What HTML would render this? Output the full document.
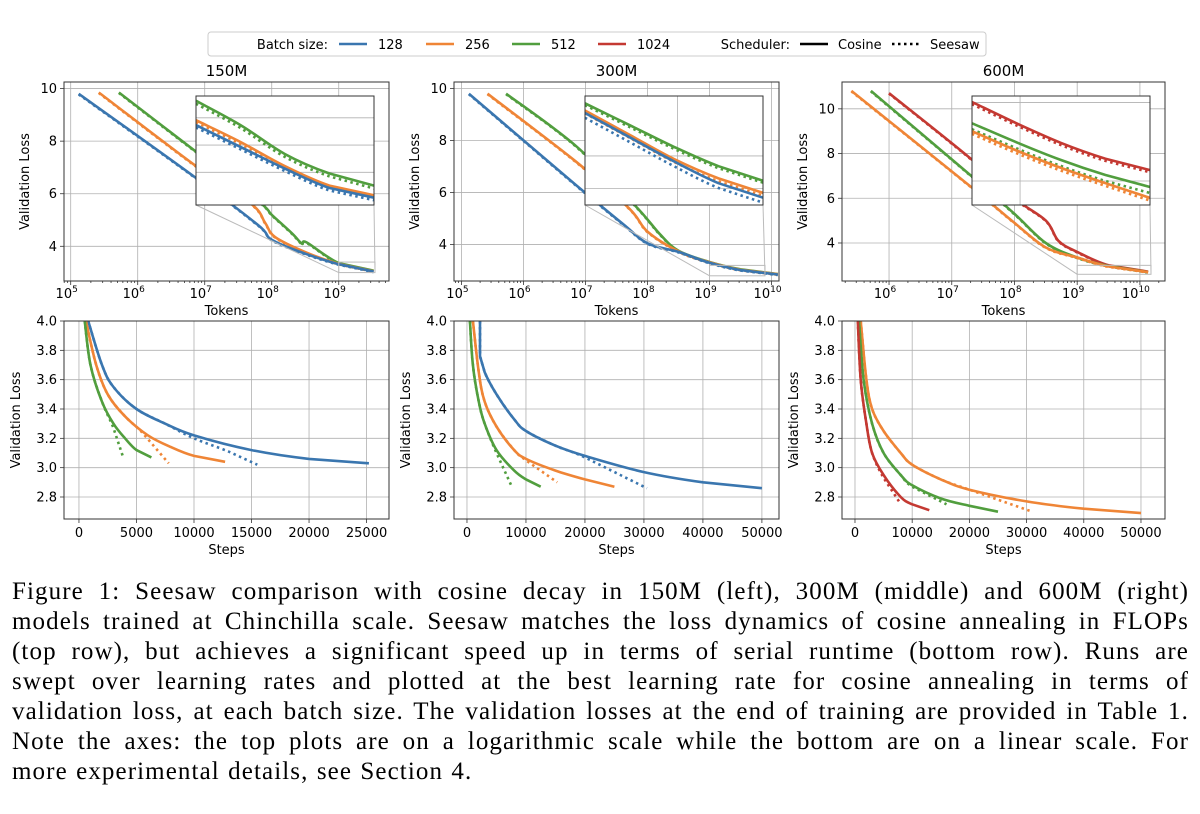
<!DOCTYPE html>
<html><head><meta charset="utf-8">
<style>
body{margin:0;background:#fff;width:1200px;height:814px;overflow:hidden;}
svg text{font-family:"DejaVu Sans","Liberation Sans",sans-serif;fill:#000;}
#caption{position:absolute;left:12px;top:577px;width:1177px;font-family:"Liberation Serif",serif;font-size:25px;line-height:30px;color:#000;letter-spacing:1.1px;word-spacing:1px;}
#caption div{text-align:justify;text-align-last:justify;white-space:nowrap;}
#caption div.last{text-align-last:left;}
</style></head><body>
<svg id="fig" width="1200" height="580" style="position:absolute;left:0;top:0"></svg>
<div id="caption">
<div>Figure 1: Seesaw comparison with cosine decay in 150M (left), 300M (middle) and 600M (right)</div>
<div>models trained at Chinchilla scale. Seesaw matches the loss dynamics of cosine annealing in FLOPs</div>
<div>(top row), but achieves a significant speed up in terms of serial runtime (bottom row). Runs are</div>
<div>swept over learning rates and plotted at the best learning rate for cosine annealing in terms of</div>
<div>validation loss, at each batch size. The validation losses at the end of training are provided in Table 1.</div>
<div>Note the axes: the top plots are on a logarithmic scale while the bottom are on a linear scale. For</div>
<div class="last">more experimental details, see Section 4.</div>
</div>
<script>
// ---- data (x = log10 tokens for top row, steps for bottom row) ----
const COLORS = {b128:'#3a76af', b256:'#ef8536', b512:'#519e3e', b1024:'#c43932'};
const topTitles = ['150M','300M','600M'];
// Top-left 150M
const tl_b128 = [[5.12,9.8],[6.87,6.6],[7.8,4.8],[8.0,4.25],[8.5,3.72],[9.0,3.32],[9.52,3.04]];
const tl_b256 = [[5.42,9.85],[6.87,7.05],[7.7,5.6],[7.9,4.9],[8.05,4.35],[8.5,3.78],[9.0,3.33],[9.52,3.05]];
const tl_b512 = [[5.72,9.85],[6.87,7.6],[7.5,6.4],[7.9,5.5],[8.0,5.2],[8.3,4.5],[8.45,4.1],[8.52,4.15],[9.0,3.36],[9.52,3.07]];
// Top-middle 300M
const tm_b128 = [[5.12,9.8],[6.84,6.3],[7.6,4.8],[8.0,4.05],[8.5,3.72],[9.0,3.3],[9.5,3.02],[10.1,2.85]];
const tm_b256 = [[5.42,9.8],[6.84,7.2],[7.7,5.4],[8.0,4.5],[8.5,3.74],[9.0,3.32],[9.5,3.03],[10.1,2.86]];
const tm_b512 = [[5.72,9.8],[6.84,7.8],[7.8,5.5],[8.2,4.4],[8.5,3.76],[9.0,3.33],[9.5,3.05],[10.1,2.87]];
// Top-right 600M
const tr_b256 = [[5.4,10.8],[7.29,6.55],[8.0,4.9],[8.5,3.8],[9.0,3.35],[9.5,2.95],[10.13,2.7]];
const tr_b512 = [[5.71,10.8],[7.29,7.05],[8.0,5.3],[8.5,4.0],[9.0,3.35],[9.5,2.97],[10.13,2.7]];
const tr_b1024 = [[6.0,10.7],[7.29,7.8],[8.0,6.0],[8.5,5.0],[8.7,4.1],[9.0,3.6],[9.5,3.0],[10.13,2.72]];
// Inset data (fraction of inset x range, loss)
const tl_in_b512 = [[0,3.43],[0.25,3.33],[0.5,3.21],[0.75,3.13],[1,3.08]];
const tl_in_b256 = [[0,3.35],[0.25,3.26],[0.5,3.16],[0.75,3.08],[1,3.04]];
const tl_in_b128 = [[0,3.33],[0.25,3.24],[0.5,3.15],[0.75,3.07],[1,3.03]];
const tm_in_b512 = [[0,3.42],[0.25,3.33],[0.5,3.24],[0.75,3.16],[1,3.10]];
const tm_in_b256 = [[0,3.39],[0.25,3.29],[0.5,3.19],[0.75,3.11],[1,3.05]];
const tm_in_b128 = [[0,3.38],[0.25,3.28],[0.5,3.18],[0.75,3.09],[1,3.03]];
const tr_in_b1024 = [[0,2.978],[0.25,2.90],[0.5,2.828],[0.75,2.77],[1,2.728]];
const tr_in_b512 = [[0,2.90],[0.25,2.83],[0.5,2.765],[0.75,2.71],[1,2.666]];
const tr_in_b256 = [[0,2.871],[0.25,2.80],[0.5,2.736],[0.75,2.68],[1,2.626]];
// Bottom row (steps, loss)
const bl_b128 = [[800,4.0],[2000,3.7],[3000,3.55],[5000,3.4],[7500,3.3],[10000,3.22],[15000,3.12],[20000,3.06],[25200,3.03]];
const bl_b128s = [[800,4.0],[2000,3.7],[3000,3.55],[5000,3.4],[7500,3.3],[10000,3.2],[13000,3.11],[15500,3.02]];
const bl_b256 = [[600,4.0],[1500,3.7],[2500,3.5],[4000,3.35],[6000,3.22],[8000,3.14],[10000,3.08],[12700,3.04]];
const bl_b256s = [[600,4.0],[1500,3.7],[2500,3.5],[4000,3.35],[5500,3.24],[7800,3.03]];
const bl_b512 = [[500,4.0],[1000,3.7],[2000,3.45],[3000,3.3],[4000,3.2],[5000,3.12],[6300,3.07]];
const bl_b512s = [[500,4.0],[1000,3.7],[2000,3.45],[3000,3.27],[3800,3.08]];
const bm_b128 = [[2200,4.0],[2200,3.76],[3000,3.65],[5000,3.5],[8000,3.33],[10000,3.25],[15000,3.15],[20000,3.08],[30000,2.97],[40000,2.9],[50000,2.86]];
const bm_b128s = [[2200,4.0],[2200,3.76],[3000,3.65],[5000,3.5],[8000,3.33],[10000,3.25],[15000,3.15],[20000,3.07],[30500,2.86]];
const bm_b256 = [[1000,4.0],[2000,3.65],[3000,3.45],[5000,3.28],[8000,3.12],[10000,3.06],[15000,2.98],[20000,2.92],[25000,2.87]];
const bm_b256s = [[1000,4.0],[2000,3.65],[3000,3.45],[5000,3.28],[8000,3.12],[10000,3.05],[15300,2.9]];
const bm_b512 = [[500,4.0],[1000,3.7],[2000,3.45],[3000,3.3],[5000,3.12],[8000,2.98],[10000,2.92],[12500,2.87]];
const bm_b512s = [[500,4.0],[1000,3.7],[2000,3.45],[3000,3.3],[5000,3.1],[7500,2.88]];
const br_b256 = [[1000,4.0],[2000,3.6],[3000,3.4],[5000,3.25],[8000,3.1],[10000,3.02],[15000,2.92],[20000,2.85],[30000,2.77],[40000,2.72],[50000,2.69]];
const br_b256s = [[1000,4.0],[2000,3.6],[3000,3.4],[5000,3.25],[8000,3.1],[10000,3.02],[15000,2.92],[20000,2.85],[31000,2.7]];
const br_b512 = [[700,4.0],[1500,3.6],[3000,3.3],[5000,3.1],[8000,2.95],[10000,2.88],[15000,2.79],[20000,2.74],[25000,2.7]];
const br_b512s = [[700,4.0],[1500,3.6],[3000,3.3],[5000,3.1],[8000,2.95],[10000,2.87],[16000,2.75]];
const br_b1024 = [[500,4.0],[1000,3.6],[2000,3.3],[3000,3.1],[5000,2.95],[8000,2.8],[10000,2.75],[13000,2.71]];
const br_b1024s = [[500,4.0],[1000,3.6],[2000,3.3],[3000,3.1],[5000,2.93],[7700,2.77]];
const topYTicks = [4,6,8,10];
const bottomYTicks = [2.8,3.0,3.2,3.4,3.6,3.8,4.0];
const blXTicks = [0,5000,10000,15000,20000,25000];
const bXTicks = [0,10000,20000,30000,40000,50000];

const NS='http://www.w3.org/2000/svg';
const svg=document.getElementById('fig');
function el(tag,attrs,parent){const e=document.createElementNS(NS,tag);for(const k in attrs)e.setAttribute(k,attrs[k]);(parent||svg).appendChild(e);return e;}
function txt(s,x,y,size,anchor,parent){const t=el('text',{x:x,y:y,'font-size':size,'text-anchor':anchor||'middle'},parent);t.textContent=s;return t;}
function lin(d0,d1,r0,r1){return v=>r0+(v-d0)*(r1-r0)/(d1-d0);}
function pathOf(arr,sx,sy){
  const P=arr.map(p=>[sx(p[0]),sy(p[1])]);
  let d='M'+P[0][0].toFixed(1)+','+P[0][1].toFixed(1);
  for(let i=0;i<P.length-1;i++){
    const p0=P[Math.max(0,i-1)],p1=P[i],p2=P[i+1],p3=P[Math.min(P.length-1,i+2)];
    const same=(Math.abs(p1[0]-p2[0])<0.5)||(Math.abs(p0[0]-p1[0])<0.5&&i>0)||(Math.abs(p2[0]-p3[0])<0.5);
    if(same){d+=' L'+p2[0].toFixed(1)+','+p2[1].toFixed(1);continue;}
    const c1=[p1[0]+(p2[0]-p0[0])/6,p1[1]+(p2[1]-p0[1])/6];
    const c2=[p2[0]-(p3[0]-p1[0])/6,p2[1]-(p3[1]-p1[1])/6];
    d+=' C'+c1[0].toFixed(1)+','+c1[1].toFixed(1)+' '+c2[0].toFixed(1)+','+c2[1].toFixed(1)+' '+p2[0].toFixed(1)+','+p2[1].toFixed(1);
  }
  return d;
}
function series(g,arr,sx,sy,color,dotted,name){
  const p=el('path',{d:pathOf(arr,sx,sy),fill:'none',stroke:color,'stroke-width':2.6,'stroke-linejoin':'round','stroke-dasharray':dotted?'2.5,3.5':'none'},g);
  
  
}
function dotVariant(arr,d){return arr.map(p=>[p[0],p[1]-d]);}

// ---- top row ----
function topPanel(idx,cfg){
  const g=el('g',{});
  
  
  const L=cfg.L,R=cfg.R,T=82,B=281;
  const sx=lin(cfg.x0,cfg.x1,L,R), sy=lin(cfg.y0,cfg.y1,B,T);
  const clip=el('clipPath',{id:'c'+idx},g); el('rect',{x:L,y:T,width:R-L,height:B-T},clip);
  for(let d=Math.ceil(cfg.x0);d<=cfg.x1;d++) el('line',{x1:sx(d),x2:sx(d),y1:T,y2:B,stroke:'#b0b0b0','stroke-width':0.8},g);
  topYTicks.forEach(v=>{if(v<=cfg.y1) el('line',{x1:L,x2:R,y1:sy(v),y2:sy(v),stroke:'#b0b0b0','stroke-width':0.8},g);});
  const cg=el('g',{'clip-path':'url(#c'+idx+')'},g);
  cfg.series.forEach(s=>{series(cg,s[0],sx,sy,s[1],false,'line-'+s[2]);series(cg,dotVariant(s[0],0.02),sx,sy,s[1],true,'dotted-'+s[2]);});
  const zx0=sx(9.0),zx1=R-14,zy0=sy(cfg.zy1),zy1=sy(cfg.zy0);
  el('rect',{x:zx0,y:zy0,width:zx1-zx0,height:zy1-zy0,fill:'none',stroke:'#bbb','stroke-width':1},g);
  const IX0=cfg.IL,IX1=cfg.IL+178,IY0=96,IY1=205;
  el('line',{x1:IX0,y1:IY1,x2:zx0,y2:zy1,stroke:'#bbb','stroke-width':1},g);
  el('line',{x1:IX1,y1:IY1,x2:zx1,y2:zy1,stroke:'#bbb','stroke-width':1},g);
  const ig=el('g',{},g);
  
  
  el('rect',{x:IX0,y:IY0,width:IX1-IX0,height:IY1-IY0,fill:'#fff'},ig);
  const isx=lin(0,1,IX0,IX1), isy=lin(cfg.iy0,cfg.iy1,IY1,IY0);
  cfg.igx.forEach(f=>el('line',{x1:isx(f),x2:isx(f),y1:IY0,y2:IY1,stroke:'#b0b0b0','stroke-width':0.8},ig));
  cfg.igy.forEach(f=>el('line',{x1:IX0,x2:IX1,y1:IY0+f*(IY1-IY0),y2:IY0+f*(IY1-IY0),stroke:'#b0b0b0','stroke-width':0.8},ig));
  cfg.iseries.forEach(s=>{series(ig,s[0],isx,isy,s[1],false,'inset-line-'+s[2]);series(ig,dotVariant(s[0],s[3]),isx,isy,s[1],true,'inset-dotted-'+s[2]);});
  el('rect',{x:IX0,y:IY0,width:IX1-IX0,height:IY1-IY0,fill:'none',stroke:'#333','stroke-width':1},ig);
  el('rect',{x:L,y:T,width:R-L,height:B-T,fill:'none',stroke:'#333','stroke-width':1},g);
  for(let d=Math.floor(cfg.x0);d<=Math.ceil(cfg.x1);d++){
    for(let m=1;m<10;m++){const v=d+Math.log10(m); if(v<cfg.x0||v>cfg.x1)continue;
      el('line',{x1:sx(v),x2:sx(v),y1:B,y2:B+(m==1?4:2),stroke:'#333','stroke-width':0.8},g);}
    if(d>=cfg.x0&&d<=cfg.x1){const t=txt('10',sx(d)-4,B+17,13,'middle',g);const s=el('tspan',{dy:-6,'font-size':9},t);s.textContent=d;}
  }
  topYTicks.forEach(v=>{if(v>cfg.y1)return;el('line',{x1:L-4,x2:L,y1:sy(v),y2:sy(v),stroke:'#333','stroke-width':0.8},g);txt(String(v),L-7,sy(v)+4.5,13,'end',g);});
  txt('Tokens',(L+R)/2,B+34,13,'middle',g);
  const yl=txt('Validation Loss',0,0,13,'middle',g); yl.setAttribute('transform','translate('+(L-35)+','+((T+B)/2)+') rotate(-90)');
  txt(topTitles[idx],(L+R)/2,T-6,15,'middle',g);
}
topPanel(0,{L:64,R:389,x0:4.9,x1:9.75,y0:2.68,y1:10.25,zy0:3.0,zy1:3.4,IL:196,iy0:3.0,iy1:3.45,igx:[],igy:[0.2,0.45,0.7],
 series:[[tl_b512,COLORS.b512,'512'],[tl_b256,COLORS.b256,'256'],[tl_b128,COLORS.b128,'128']],
 iseries:[[tl_in_b512,COLORS.b512,'512',0.012],[tl_in_b256,COLORS.b256,'256',0.008],[tl_in_b128,COLORS.b128,'128',0.01]]});
topPanel(1,{L:454,R:779,x0:4.88,x1:10.12,y0:2.6,y1:10.25,zy0:2.8,zy1:3.2,IL:585,iy0:3.0,iy1:3.45,igx:[0.52],igy:[0.55,0.85],
 series:[[tm_b512,COLORS.b512,'512'],[tm_b256,COLORS.b256,'256'],[tm_b128,COLORS.b128,'128']],
 iseries:[[tm_in_b512,COLORS.b512,'512',0.008],[tm_in_b256,COLORS.b256,'256',0.012],[tm_in_b128,COLORS.b128,'128',0.02]]});
topPanel(2,{L:842,R:1165,x0:5.25,x1:10.4,y0:2.3,y1:11.2,zy0:2.6,zy1:3.0,IL:972,iy0:2.6,iy1:3.0,igx:[0.27],igy:[0.06,0.78],
 series:[[tr_b1024,COLORS.b1024,'1024'],[tr_b512,COLORS.b512,'512'],[tr_b256,COLORS.b256,'256']],
 iseries:[[tr_in_b1024,COLORS.b1024,'1024',0.008],[tr_in_b512,COLORS.b512,'512',0.022],[tr_in_b256,COLORS.b256,'256',0.01]]});

// ---- bottom row ----
function bottomPanel(idx,cfg){
  const g=el('g',{});
  
  
  const L=cfg.L,R=cfg.R,T=321,B=519;
  const sx=lin(cfg.x0,cfg.x1,L,R), sy=lin(2.65,4.0,B,T);
  const clip=el('clipPath',{id:'cb'+idx},g); el('rect',{x:L,y:T,width:R-L,height:B-T},clip);
  cfg.xt.forEach(v=>el('line',{x1:sx(v),x2:sx(v),y1:T,y2:B,stroke:'#b0b0b0','stroke-width':0.8},g));
  bottomYTicks.forEach(v=>el('line',{x1:L,x2:R,y1:sy(v),y2:sy(v),stroke:'#b0b0b0','stroke-width':0.8},g));
  const cg=el('g',{'clip-path':'url(#cb'+idx+')'},g);
  cfg.series.forEach(s=>{series(cg,s[0],sx,sy,s[2],false,'line-'+s[3]);series(cg,s[1],sx,sy,s[2],true,'dotted-'+s[3]);});
  el('rect',{x:L,y:T,width:R-L,height:B-T,fill:'none',stroke:'#333','stroke-width':1},g);
  cfg.xt.forEach(v=>{el('line',{x1:sx(v),x2:sx(v),y1:B,y2:B+4,stroke:'#333','stroke-width':0.8},g);txt(String(v),sx(v),B+18,13,'middle',g);});
  bottomYTicks.forEach(v=>{el('line',{x1:L-4,x2:L,y1:sy(v),y2:sy(v),stroke:'#333','stroke-width':0.8},g);txt(v.toFixed(1),L-7,sy(v)+4.5,13,'end',g);});
  txt('Steps',(L+R)/2,B+35,13,'middle',g);
  const yl=txt('Validation Loss',0,0,13,'middle',g); yl.setAttribute('transform','translate('+(L-44)+','+((T+B)/2)+') rotate(-90)');
}
bottomPanel(0,{L:64,R:389,x0:-1300,x1:26950,xt:blXTicks,
 series:[[bl_b128,bl_b128s,COLORS.b128,'128'],[bl_b256,bl_b256s,COLORS.b256,'256'],[bl_b512,bl_b512s,COLORS.b512,'512']]});
bottomPanel(1,{L:454,R:779,x0:-2200,x1:52900,xt:bXTicks,
 series:[[bm_b128,bm_b128s,COLORS.b128,'128'],[bm_b256,bm_b256s,COLORS.b256,'256'],[bm_b512,bm_b512s,COLORS.b512,'512']]});
bottomPanel(2,{L:842,R:1165,x0:-2270,x1:54200,xt:bXTicks,
 series:[[br_b256,br_b256s,COLORS.b256,'256'],[br_b512,br_b512s,COLORS.b512,'512'],[br_b1024,br_b1024s,COLORS.b1024,'1024']]});

// ---- legend ----
const lg=el('g',{});


el('rect',{x:208,y:32,width:778,height:24,rx:3,fill:'#fff',stroke:'#ccc','stroke-width':1},lg);
txt('Batch size:',328,49,13,'end',lg);
[['128',COLORS.b128,339],['256',COLORS.b256,426],['512',COLORS.b512,512],['1024',COLORS.b1024,598]].forEach(e=>{
  const it=el('g',{},lg);
  
  
  el('line',{x1:e[2],x2:e[2]+28,y1:44,y2:44,stroke:e[1],'stroke-width':2.6},it);
  txt(e[0],e[2]+39,49,13,'start',it);
});
txt('Scheduler:',790,49,13,'end',lg);
const c1=el('g',{},lg);
el('line',{x1:800,x2:828,y1:44,y2:44,stroke:'#000','stroke-width':2.6},c1);txt('Cosine',838,49,13,'start',c1);
const c2=el('g',{},lg);
el('line',{x1:892,x2:920,y1:44,y2:44,stroke:'#000','stroke-width':2.6,'stroke-dasharray':'2.5,3.5'},c2);txt('Seesaw',930,49,13,'start',c2);
</script>
</body></html>
